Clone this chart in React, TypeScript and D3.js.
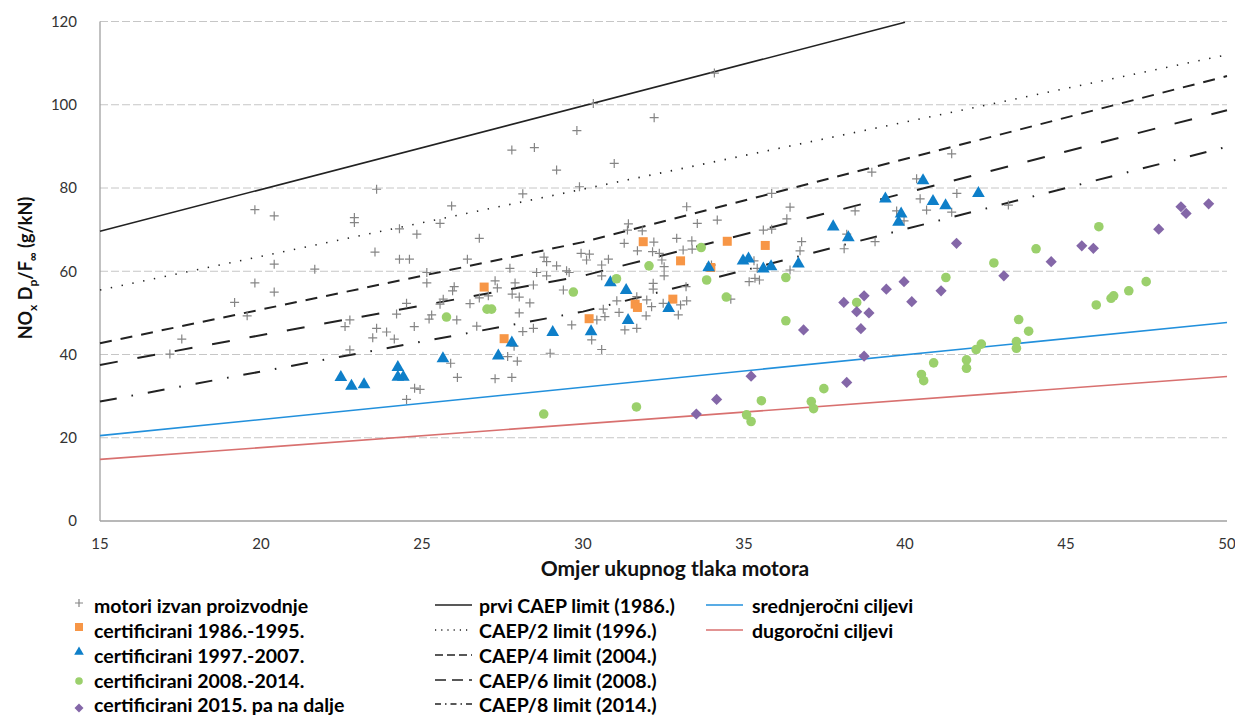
import React from "react";
import * as d3 from "d3";

const W = 1235;
const H = 717;

const xTicks = [15, 20, 25, 30, 35, 40, 45, 50];
const yTicks = [0, 20, 40, 60, 80, 100, 120];

// motori izvan proizvodnje (OPR, NOx Dp/Foo)
const motoriIzvanProizvodnje: [number, number][] = [
  [19.81, 74.8], [20.41, 73.3], [20.41, 61.7], [19.81, 57.2], [20.41, 55.0], [19.18, 52.5], [19.57, 49.3], [17.54, 43.7], [17.17, 40.1],
  [27.79, 89.1], [23.59, 79.7], [25.92, 75.7], [22.9, 72.9], [22.9, 71.7], [25.56, 71.5], [24.3, 70.2], [24.84, 68.9], [26.78, 67.9],
  [23.54, 64.6], [24.3, 62.9], [24.61, 62.9], [26.41, 62.9], [21.67, 60.5], [25.15, 59.7], [27.73, 60.7], [25.15, 57.2], [26.0, 56.3],
  [25.95, 55.3], [27.27, 57.7], [27.34, 56.0], [27.89, 57.2], [26.78, 53.6], [27.06, 54.1], [27.8, 54.5], [28.02, 53.8], [25.66, 53.3],
  [25.56, 52.1], [24.52, 52.3], [26.49, 52.2], [28.02, 50.0], [24.21, 49.7], [25.3, 49.5], [25.22, 48.5], [26.08, 48.3], [22.76, 48.3],
  [22.61, 46.7], [23.59, 46.3], [23.9, 45.4], [24.76, 46.7], [26.7, 46.8], [23.47, 44.0], [24.14, 43.7], [22.76, 41.1], [27.86, 42.0],
  [25.89, 37.9], [27.66, 39.5], [27.96, 38.4], [26.1, 34.5], [27.27, 34.2], [27.79, 34.5], [24.77, 31.9], [24.94, 31.6], [24.52, 29.2],
  [34.08, 107.6], [30.32, 100.3], [32.21, 96.9], [29.81, 93.8], [28.49, 89.7], [29.18, 84.3], [30.97, 85.9], [29.89, 80.3], [28.13, 78.6],
  [33.22, 75.5], [34.17, 72.3], [33.55, 71.5], [31.41, 71.4], [31.38, 69.9], [31.84, 69.7], [32.2, 67.0], [31.28, 66.7], [32.91, 67.9],
  [33.38, 67.3], [31.69, 64.9], [32.16, 64.7], [32.37, 64.3], [33.11, 65.1], [33.39, 65.3], [29.94, 64.3], [30.2, 64.1], [30.11, 62.7],
  [30.79, 62.9], [28.79, 63.4], [28.87, 62.3], [30.58, 61.5], [29.18, 61.3], [28.56, 59.7], [28.87, 58.9], [29.49, 60.1], [29.57, 59.7],
  [30.58, 58.9], [32.52, 61.1], [32.45, 62.7], [32.52, 58.9], [35.31, 62.5], [35.41, 60.7], [35.34, 58.3], [35.16, 57.5], [35.48, 57.9],
  [28.46, 56.7], [29.39, 55.5], [32.18, 57.1], [32.18, 55.7], [33.2, 56.3], [34.59, 53.3], [28.35, 52.4], [31.05, 52.9], [31.67, 53.9],
  [31.98, 53.1], [32.13, 51.5], [31.12, 50.1], [30.63, 50.9], [30.68, 49.1], [30.43, 48.3], [29.65, 47.1], [31.3, 45.9], [31.67, 46.3],
  [31.96, 49.3], [33.03, 51.9], [33.22, 52.9], [32.96, 49.5], [30.27, 43.5], [30.58, 41.2], [28.98, 40.3], [28.46, 46.3], [28.13, 45.5],
  [33.99, 61.5], [32.49, 52.3],
  [41.45, 88.2], [38.97, 83.8], [40.36, 82.2], [35.86, 78.7], [40.47, 77.4], [41.61, 78.7], [36.43, 75.4], [36.33, 72.6], [38.45, 74.5],
  [39.74, 74.5], [40.67, 74.7], [41.45, 74.2], [39.97, 72.1], [35.6, 69.9], [35.86, 70.1], [36.79, 67.1], [36.74, 64.9], [38.19, 68.9],
  [38.11, 65.4], [39.07, 67.1], [36.43, 60.3], [43.21, 75.9],
];

const cert1986_1995: [number, number][] = [
  [26.93, 56.2], [27.55, 43.8], [30.19, 48.6], [31.62, 52.1], [31.69, 51.3], [31.87, 67.1], [33.03, 62.5], [32.79, 53.3],
  [33.97, 60.9], [34.48, 67.2], [35.66, 66.2],
];

const cert1997_2007: [number, number][] = [
  [22.48, 34.5], [22.81, 32.4], [23.2, 32.8], [24.25, 36.9], [24.25, 34.6], [24.42, 34.6], [25.65, 39.0], [27.37, 39.7],
  [27.79, 42.8], [29.06, 45.3], [30.25, 45.5], [30.85, 57.3], [31.34, 55.4], [31.4, 48.2], [32.66, 51.1], [33.9, 60.9],
  [34.97, 62.5], [35.14, 63.0], [35.6, 60.6], [35.84, 61.1], [36.69, 61.8], [37.77, 70.7], [38.24, 68.1], [39.39, 77.4],
  [39.88, 73.8], [39.8, 71.8], [40.56, 81.8], [40.87, 76.8], [41.26, 75.8], [42.28, 78.7],
];

const cert2008_2014: [number, number][] = [
  [25.76, 49.0], [27.02, 50.9], [27.16, 50.9], [29.7, 55.0], [31.04, 58.2], [32.05, 61.3], [33.67, 65.7], [33.84, 57.9],
  [34.45, 53.8], [36.3, 58.5], [36.3, 48.1], [28.78, 25.7], [31.66, 27.4], [35.08, 25.5], [35.22, 23.9], [35.54, 28.9],
  [37.09, 28.7], [37.16, 27.0], [37.48, 31.8], [38.5, 52.5], [41.27, 58.5], [42.76, 62.0], [40.51, 35.2], [40.58, 33.7],
  [40.89, 38.0], [41.91, 38.7], [41.91, 36.7], [42.21, 41.2], [42.37, 42.5], [43.46, 43.1], [43.46, 41.5], [43.53, 48.4],
  [43.84, 45.6], [44.07, 65.4], [46.02, 70.7], [45.94, 51.9], [46.4, 53.5], [46.48, 54.1], [46.95, 55.3], [47.49, 57.5],
];

const cert2015: [number, number][] = [
  [33.52, 25.7], [34.15, 29.2], [35.22, 34.8], [36.85, 45.9], [38.1, 52.5], [38.73, 54.1], [38.5, 50.3], [38.88, 50.0],
  [38.63, 46.2], [38.73, 39.6], [38.19, 33.3], [39.42, 55.7], [39.97, 57.5], [40.21, 52.7], [41.12, 55.3], [41.6, 66.7],
  [43.07, 58.9], [44.54, 62.3], [45.49, 66.1], [45.85, 65.5], [47.88, 70.1], [48.57, 75.5], [48.73, 73.9], [49.43, 76.2],
];

// limit lines (breakpoints)
const caep1986: [number, number][] = [[15, 69.6], [40, 119.8]];
const caep2_1996: [number, number][] = [[15, 55.5], [50, 112]];
const caep4_2004: [number, number][] = [[15, 42.7], [30, 67.0], [50, 106.9]];
const caep6_2008: [number, number][] = [[15, 37.5], [30, 58.9], [50, 98.7]];
const caep8_2014: [number, number][] = [[15, 28.7], [30, 50.3], [50, 89.9]];
const srednjerocni: [number, number][] = [[15, 20.5], [50, 47.7]];
const dugorocni: [number, number][] = [[15, 14.8], [50, 34.7]];

const FONT = "Lato, 'Open Sans', sans-serif";
const C_CROSS = "#858585";
const C_SQ = "#f79646";
const C_TRI = "#0e7fc9";
const C_CIR = "#9bd06c";
const C_DIA = "#8467a8";

const lineSeries = [
  { name: "prvi CAEP limit (1986.)", data: caep1986, color: "#222", width: 1.6, dash: "", legendDash: "" },
  { name: "CAEP/2 limit (1996.)", data: caep2_1996, color: "#222", width: 1.6, dash: "1.4 9.6", legendDash: "1.2 5" },
  { name: "CAEP/4 limit (2004.)", data: caep4_2004, color: "#222", width: 2, dash: "12 9", legendDash: "8 4" },
  { name: "CAEP/6 limit (2008.)", data: caep6_2008, color: "#222", width: 2, dash: "18 20", legendDash: "11 6" },
  { name: "CAEP/8 limit (2014.)", data: caep8_2014, color: "#222", width: 2, dash: "17 15 1.6 15", legendDash: "6 4 1.5 4" },
  { name: "srednjeročni ciljevi", data: srednjerocni, color: "#2290dc", width: 1.6, dash: "", legendDash: "" },
  { name: "dugoročni ciljevi", data: dugorocni, color: "#d8706f", width: 1.6, dash: "", legendDash: "" },
];

function Cross({ cx, cy, r }: { cx: number; cy: number; r: number }) {
  return (
    <path d={`M${cx - r},${cy}H${cx + r}M${cx},${cy - r}V${cy + r}`} stroke={C_CROSS} strokeWidth={1.2} fill="none" />
  );
}

export default function App() {
  const x = d3.scaleLinear().domain([15, 50]).range([100, 1227]);
  const y = d3.scaleLinear().domain([0, 120]).range([521, 21.5]);
  const line = d3.line<[number, number]>().x((d) => x(d[0])).y((d) => y(d[1]));

  const tri = d3.symbol().type(d3.symbolTriangle).size(70)();
  const triSmall = d3.symbol().type(d3.symbolTriangle).size(40)();
  const diamond = (s: number) => `M0,${-s}L${s},0L0,${s}L${-s},0Z`;

  const legendRows1 = [
    "motori izvan proizvodnje",
    "certificirani 1986.-1995.",
    "certificirani 1997.-2007.",
    "certificirani 2008.-2014.",
    "certificirani 2015. pa na dalje",
  ];
  const rowY = [606, 631, 656, 681, 705];
  const LFS = 19.5;

  return (
    <svg
      width={W}
      height={H}
      style={{ position: "absolute", left: 0, top: 0, background: "#fff" }}
      fontFamily={FONT}
    >
      <rect x={0} y={0} width={W} height={H} fill="#fff" />
      {/* gridlines */}
      {yTicks.filter((t) => t > 0).map((t) => (
        <line key={t} x1={x(15)} x2={x(50)} y1={y(t)} y2={y(t)} stroke="#c6c6c6" strokeWidth={1} strokeDasharray="8 3" />
      ))}
      {/* axes */}
      <line x1={x(15)} x2={x(15)} y1={y(120)} y2={y(0)} stroke="#a0a0a0" strokeWidth={1.3} />
      <line x1={x(15)} x2={x(50)} y1={y(0)} y2={y(0)} stroke="#a0a0a0" strokeWidth={1.3} />
      {/* tick labels */}
      {yTicks.map((t) => (
        <text key={t} x={77} y={y(t)} dy="0.35em" textAnchor="end" fontSize={15} fill="#333">
          {t}
        </text>
      ))}
      {xTicks.map((t) => (
        <text key={t} x={x(t)} y={549} textAnchor="middle" fontSize={15} fill="#333">
          {t}
        </text>
      ))}
      {/* axis titles */}
      <text x={675} y={576} textAnchor="middle" fontSize={21} fontWeight="bold" fill="#111">
        Omjer ukupnog tlaka motora
      </text>
      <text transform="translate(32,268) rotate(-90)" textAnchor="middle" fontSize={18} fontWeight="bold" fill="#111">
        NO<tspan fontSize={12} dy={5}>x</tspan>
        <tspan dy={-5}> D</tspan>
        <tspan fontSize={12} dy={5}>p</tspan>
        <tspan dy={-5}>/F</tspan>
        <tspan fontSize={12} dy={5}>∞</tspan>
        <tspan dy={-5}> (g/kN)</tspan>
      </text>

      {/* limit lines */}
      {lineSeries.map((s) => (
        <path
          key={s.name}
          d={line(s.data) || ""}
          fill="none"
          stroke={s.color}
          strokeWidth={s.width}
          strokeDasharray={s.dash || undefined}
        />
      ))}

      {/* markers */}
      {motoriIzvanProizvodnje.map((d, i) => (
        <Cross key={"c" + i} cx={x(d[0])} cy={y(d[1])} r={4.5} />
      ))}
      {cert1986_1995.map((d, i) => (
        <rect key={"s" + i} x={x(d[0]) - 4.5} y={y(d[1]) - 4.5} width={9} height={9} fill={C_SQ} />
      ))}
      {cert1997_2007.map((d, i) => (
        <path key={"t" + i} d={tri || ""} transform={`translate(${x(d[0])},${y(d[1])})`} fill={C_TRI} />
      ))}
      {cert2008_2014.map((d, i) => (
        <circle key={"g" + i} cx={x(d[0])} cy={y(d[1])} r={4.8} fill={C_CIR} />
      ))}
      {cert2015.map((d, i) => (
        <path key={"p" + i} d={diamond(5.6)} transform={`translate(${x(d[0])},${y(d[1])})`} fill={C_DIA} />
      ))}

      {/* legend column 1 */}
      <g>
        <Cross cx={79} cy={rowY[0] - 3} r={4} />
        <rect x={75} y={rowY[1] - 8} width={8} height={8} fill={C_SQ} />
        <path d={triSmall || ""} transform={`translate(79,${rowY[2] - 4})`} fill={C_TRI} />
        <circle cx={79} cy={rowY[3]} r={3.8} fill={C_CIR} />
        <path d={diamond(4.5)} transform={`translate(79,${rowY[4] + 3})`} fill={C_DIA} />
        {legendRows1.map((t, i) => (
          <text key={t} x={94} y={rowY[i]} dy="0.35em" fontSize={LFS} fontWeight="bold" fill="#000">
            {t}
          </text>
        ))}
      </g>
      {/* legend column 2 and 3 */}
      {lineSeries.map((s, i) => {
        const col = i < 5 ? 0 : 1;
        const row = i < 5 ? i : i - 5;
        const lx = col === 0 ? 435 : 706;
        const ly = rowY[row] - 1;
        return (
          <g key={"l" + s.name}>
            <line
              x1={lx}
              x2={lx + 37}
              y1={ly}
              y2={ly}
              stroke={s.color}
              strokeWidth={s.width > 1.7 ? 1.6 : 1.3}
              strokeDasharray={s.legendDash || undefined}
            />
            <text x={col === 0 ? 479 : 752} y={rowY[row]} dy="0.35em" fontSize={LFS} fontWeight="bold" fill="#000">
              {s.name}
            </text>
          </g>
        );
      })}
    </svg>
  );
}
